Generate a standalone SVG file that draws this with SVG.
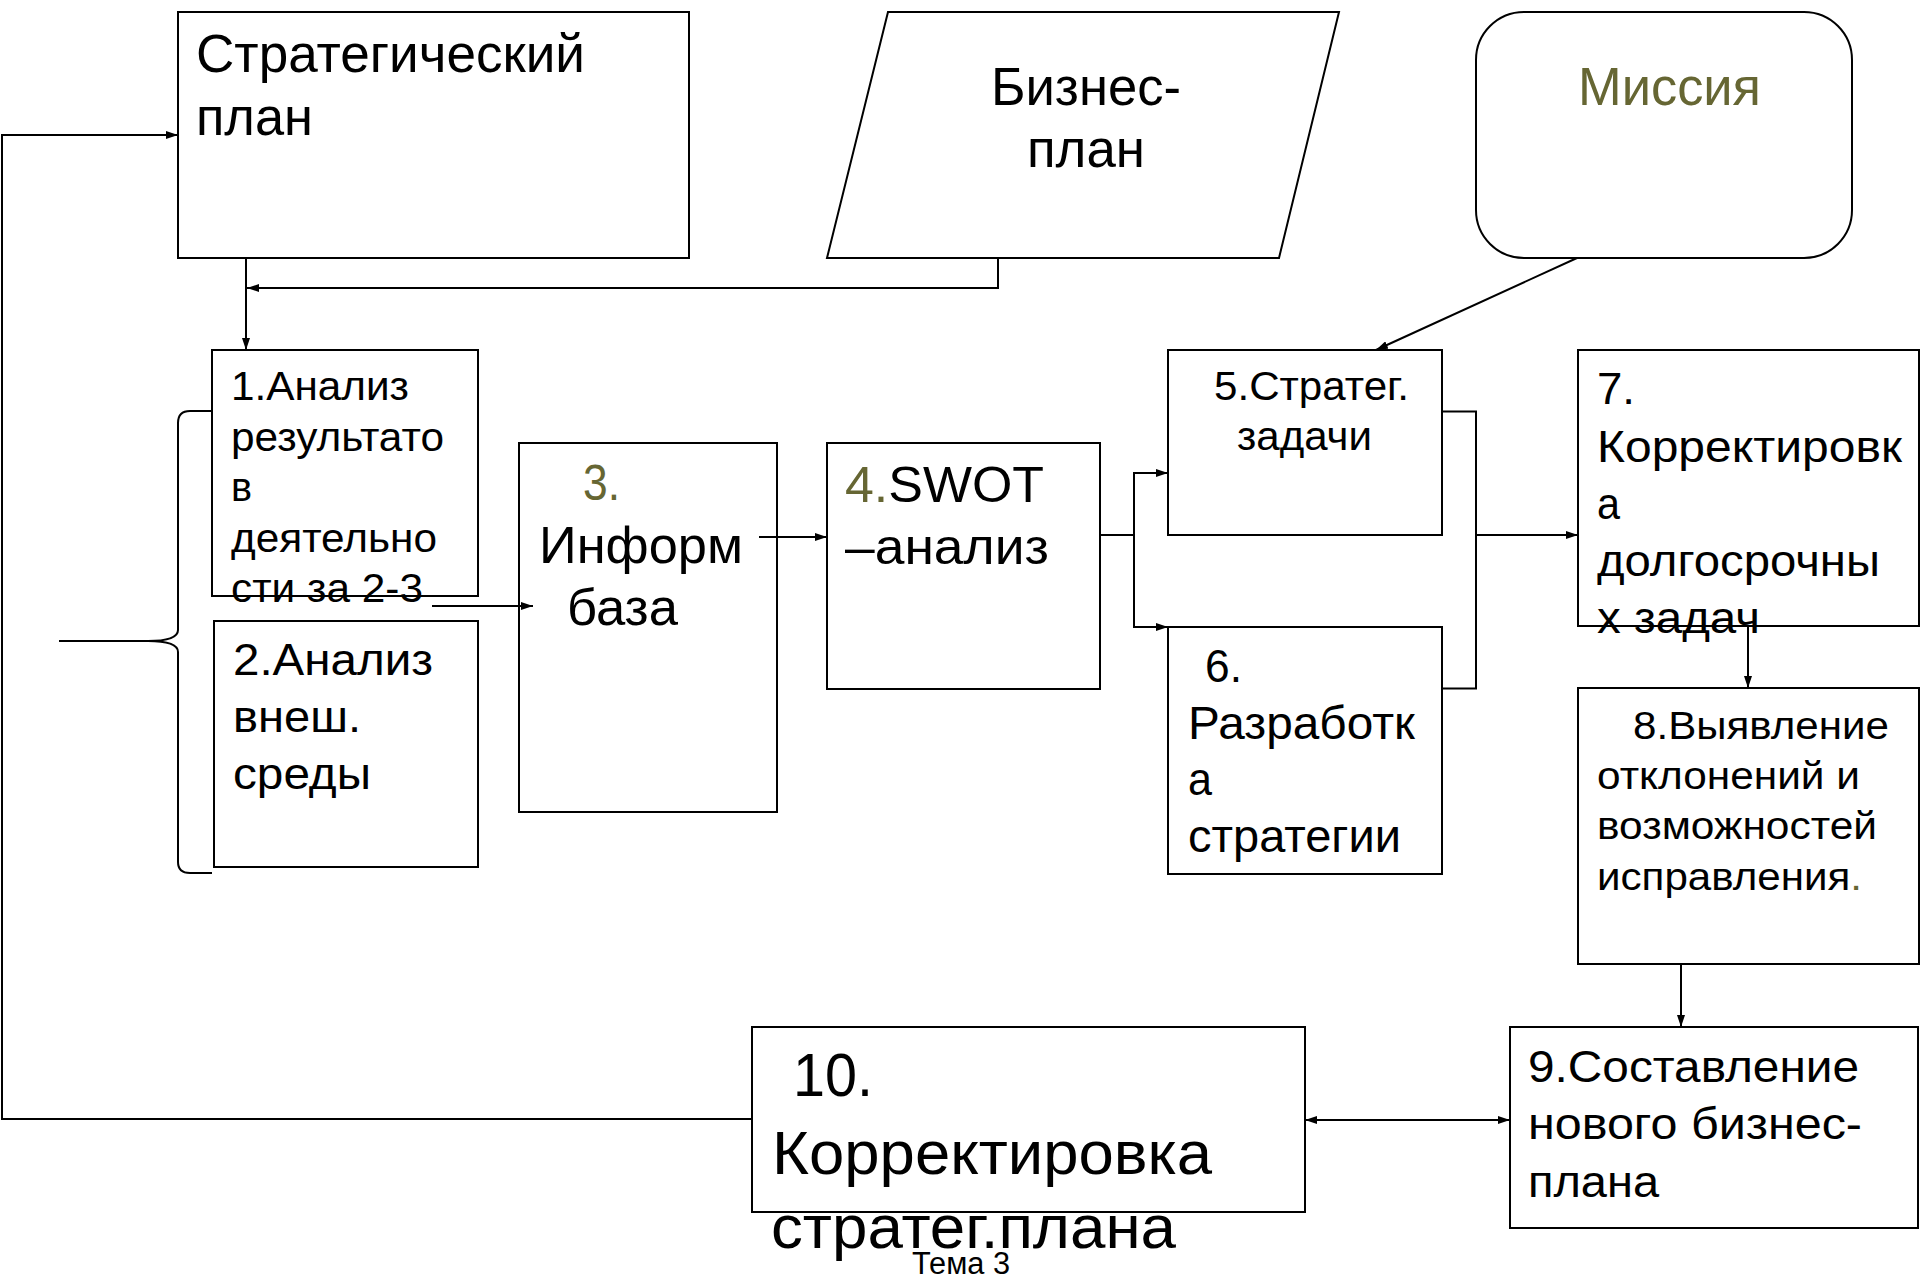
<svg xmlns="http://www.w3.org/2000/svg" width="1920" height="1280" viewBox="0 0 1920 1280">
<defs>
<marker id="arr" markerWidth="12" markerHeight="8" refX="12" refY="4" orient="auto-start-reverse" markerUnits="userSpaceOnUse">
<path d="M0,0 L12,4 L0,8 z" fill="#000"/>
</marker>
</defs>
<style>
.box{fill:#fff;stroke:#000;stroke-width:2}
.t{font-family:"Liberation Sans",Arial,"DejaVu Sans",sans-serif;fill:#000}
.ol{fill:#666633}
.c{fill:none;stroke:#000;stroke-width:2}
.ca{fill:none;stroke:#000;stroke-width:2;marker-end:url(#arr)}
</style>
<rect width="1920" height="1280" fill="#fff"/>

<g id="n-strat-plan">
<rect class="box" x="178" y="12" width="511" height="246"/>
<text class="t" font-size="54" x="196" y="72" textLength="389" lengthAdjust="spacingAndGlyphs">Стратегический</text>
<text class="t" font-size="54" x="196" y="135" textLength="117" lengthAdjust="spacingAndGlyphs">план</text>
</g>

<g id="n-business-plan">
<polygon class="box" points="888,12 1339,12 1279,258 827,258"/>
<text class="t" font-size="54" x="991" y="105" textLength="190" lengthAdjust="spacingAndGlyphs">Бизнес-</text>
<text class="t" font-size="54" x="1027" y="167" textLength="118" lengthAdjust="spacingAndGlyphs">план</text>
</g>

<g id="n-mission">
<rect class="box" x="1476" y="12" width="376" height="246" rx="48" ry="48"/>
<text class="t ol" font-size="54" x="1578" y="105" textLength="183" lengthAdjust="spacingAndGlyphs">Миссия</text>
</g>

<g id="n1">
<rect class="box" x="212" y="350" width="266" height="246"/>
<text class="t" font-size="40" x="231" y="400" textLength="178" lengthAdjust="spacingAndGlyphs">1.Анализ</text>
<text class="t" font-size="40" x="231" y="450.5" textLength="213" lengthAdjust="spacingAndGlyphs">результато</text>
<text class="t" font-size="40" x="231" y="501" textLength="21" lengthAdjust="spacingAndGlyphs">в</text>
<text class="t" font-size="40" x="231" y="551.5" textLength="206" lengthAdjust="spacingAndGlyphs">деятельно</text>
<text class="t" font-size="40" x="231" y="602" textLength="192" lengthAdjust="spacingAndGlyphs">сти за 2-3</text>
</g>

<g id="n2">
<rect class="box" x="214" y="621" width="264" height="246"/>
<text class="t" font-size="44" x="233" y="675" textLength="200" lengthAdjust="spacingAndGlyphs">2.Анализ</text>
<text class="t" font-size="44" x="233" y="731.5" textLength="128" lengthAdjust="spacingAndGlyphs">внеш.</text>
<text class="t" font-size="44" x="233" y="788.5" textLength="138" lengthAdjust="spacingAndGlyphs">среды</text>
</g>

<g id="n3">
<rect class="box" x="519" y="443" width="258" height="369"/>
<text class="t ol" font-size="50" x="583" y="500" textLength="37" lengthAdjust="spacingAndGlyphs">3.</text>
<text class="t" font-size="52" x="539" y="563" textLength="204" lengthAdjust="spacingAndGlyphs">Информ</text>
<text class="t" font-size="52" x="567" y="625" textLength="111" lengthAdjust="spacingAndGlyphs">база</text>
</g>

<g id="n4">
<rect class="box" x="827" y="443" width="273" height="246"/>
<text class="t" font-size="50" x="845" y="502" textLength="199" lengthAdjust="spacingAndGlyphs"><tspan class="ol">4.</tspan>SWOT</text>
<text class="t" font-size="50" x="845" y="564" textLength="204" lengthAdjust="spacingAndGlyphs">–анализ</text>
</g>

<g id="n5">
<rect class="box" x="1168" y="350" width="274" height="185"/>
<text class="t" font-size="40" x="1214" y="400" textLength="195" lengthAdjust="spacingAndGlyphs">5.Стратег.</text>
<text class="t" font-size="40" x="1237" y="450" textLength="135" lengthAdjust="spacingAndGlyphs">задачи</text>
</g>

<g id="n6">
<rect class="box" x="1168" y="627" width="274" height="247"/>
<text class="t" font-size="46" x="1205" y="682" textLength="37" lengthAdjust="spacingAndGlyphs">6.</text>
<text class="t" font-size="46" x="1188" y="738.5" textLength="227" lengthAdjust="spacingAndGlyphs">Разработк</text>
<text class="t" font-size="46" x="1188" y="795" textLength="24" lengthAdjust="spacingAndGlyphs">а</text>
<text class="t" font-size="46" x="1188" y="852" textLength="213" lengthAdjust="spacingAndGlyphs">стратегии</text>
</g>

<g id="n7">
<rect class="box" x="1578" y="350" width="341" height="276"/>
<text class="t" font-size="45" x="1597" y="404" textLength="38" lengthAdjust="spacingAndGlyphs">7.</text>
<text class="t" font-size="45" x="1597" y="462" textLength="305" lengthAdjust="spacingAndGlyphs">Корректировк</text>
<text class="t" font-size="45" x="1597" y="519" textLength="23" lengthAdjust="spacingAndGlyphs">а</text>
<text class="t" font-size="45" x="1597" y="576" textLength="283" lengthAdjust="spacingAndGlyphs">долгосрочны</text>
<text class="t" font-size="45" x="1597" y="633" textLength="163" lengthAdjust="spacingAndGlyphs">х задач</text>
</g>

<g id="n8">
<rect class="box" x="1578" y="688" width="341" height="276"/>
<text class="t" font-size="38" x="1633" y="738.5" textLength="256" lengthAdjust="spacingAndGlyphs">8.Выявление</text>
<text class="t" font-size="38" x="1597" y="788.5" textLength="263" lengthAdjust="spacingAndGlyphs">отклонений и</text>
<text class="t" font-size="38" x="1597" y="839" textLength="280" lengthAdjust="spacingAndGlyphs">возможностей</text>
<text class="t" font-size="38" x="1597" y="890" textLength="265" lengthAdjust="spacingAndGlyphs">исправления<tspan class="ol">.</tspan></text>
</g>

<g id="n9">
<rect class="box" x="1510" y="1027" width="408" height="201"/>
<text class="t" font-size="45" x="1528" y="1082" textLength="331" lengthAdjust="spacingAndGlyphs">9.Составление</text>
<text class="t" font-size="45" x="1528" y="1139" textLength="334" lengthAdjust="spacingAndGlyphs">нового бизнес-</text>
<text class="t" font-size="45" x="1528" y="1197" textLength="131" lengthAdjust="spacingAndGlyphs">плана</text>
</g>

<g id="n10">
<rect class="box" x="752" y="1027" width="553" height="185"/>
<text class="t" font-size="62" x="793" y="1096" textLength="80" lengthAdjust="spacingAndGlyphs">10.</text>
<text class="t" font-size="62" x="772" y="1174" textLength="440" lengthAdjust="spacingAndGlyphs">Корректировка</text>
<text class="t" font-size="62" x="771" y="1248" textLength="405" lengthAdjust="spacingAndGlyphs">стратег.плана</text>
</g>

<g id="footer">
<text class="t" font-size="31" x="912" y="1274" textLength="98" lengthAdjust="spacingAndGlyphs">Тема 3</text>
</g>

<g id="connectors">
<polyline class="ca" points="752,1119 2,1119 2,135 178,135"/>
<line class="ca" x1="246" y1="258" x2="246" y2="350"/>
<polyline class="ca" points="998,258 998,288 247,288"/>
<line class="ca" x1="1577" y1="258" x2="1376" y2="350"/>
<path class="c" d="M212,411 H190 Q178,411 178,423 V630 Q178,641 148,641 Q178,641 178,652 V862 Q178,873 190,873 H212"/>
<line class="c" x1="59" y1="641" x2="148" y2="641"/>
<line class="ca" x1="432" y1="606" x2="533" y2="606"/>
<line class="ca" x1="759" y1="537" x2="827" y2="537"/>
<polyline class="c" points="1100,535 1134,535"/>
<polyline class="ca" points="1134,535 1134,473 1168,473"/>
<polyline class="ca" points="1134,535 1134,627 1168,627"/>
<polyline class="c" points="1442,411.5 1476,411.5 1476,688.5 1442,688.5"/>
<line class="ca" x1="1476" y1="535" x2="1578" y2="535"/>
<line class="ca" x1="1748" y1="626" x2="1748" y2="688"/>
<line class="ca" x1="1681" y1="964" x2="1681" y2="1027"/>
<line class="ca" x1="1305" y1="1120" x2="1510" y2="1120" marker-start="url(#arr)"/>
</g>
</svg>
